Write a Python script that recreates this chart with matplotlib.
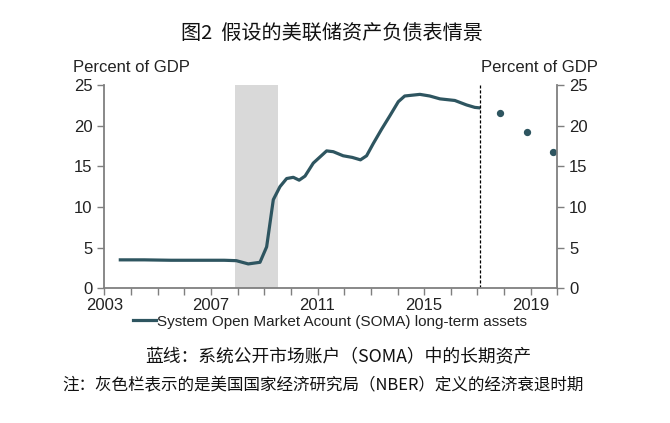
import matplotlib.pyplot as plt
import matplotlib.ticker as mticker

plt.rcParams['font.family'] = ['Liberation Sans', 'Noto Sans CJK SC', 'DejaVu Sans']

# SOMA long-term assets, percent of GDP
soma_years = [2003.6, 2004.5, 2005.5, 2006.5, 2007.5, 2007.95, 2008.4, 2008.84,
              2009.09, 2009.34, 2009.59, 2009.84, 2010.09, 2010.31, 2010.53,
              2010.84, 2011.34, 2011.59, 2011.96, 2012.3, 2012.61, 2012.84,
              2013.09, 2013.4, 2013.71, 2014.03, 2014.27, 2014.84, 2015.21,
              2015.59, 2016.15, 2016.59, 2016.9, 2017.05]
soma_values = [3.5, 3.5, 3.45, 3.45, 3.45, 3.4, 3.0, 3.2,
               5.1, 10.9, 12.5, 13.5, 13.65, 13.3, 13.8,
               15.4, 16.9, 16.8, 16.3, 16.1, 15.8, 16.3,
               17.8, 19.55, 21.2, 22.95, 23.65, 23.85, 23.65,
               23.3, 23.1, 22.55, 22.25, 22.2]

# projected points
proj_years = [2017.85, 2018.85, 2019.84]
proj_values = [21.5, 19.2, 16.8]

recession = (2007.92, 2009.5)
forecast_start = 2017.08

line_color = '#2e5560'

fig = plt.figure(figsize=(6.7, 4.23), dpi=100)
ax = fig.add_axes([0.1557, 0.3184, 0.832 - 0.1557, 0.799 - 0.3184])

ax.axvspan(*recession, color='#d9d9d9', lw=0, zorder=0)
ax.plot(soma_years, soma_values, color=line_color, lw=2.3,
        label='System Open Market Acount (SOMA) long-term assets')
ax.scatter(proj_years, proj_values, s=18, color=line_color, zorder=3, clip_on=False)
ax.plot([forecast_start, forecast_start], [0, 25], color='black', lw=0.9,
        ls=(0, (2.5, 1.5)))

ax.set_xlim(2003, 2020)
ax.set_ylim(0, 25)
ax.xaxis.set_major_locator(mticker.FixedLocator([2003, 2007, 2011, 2015, 2019]))
ax.xaxis.set_minor_locator(mticker.MultipleLocator(1))
ax.yaxis.set_major_locator(mticker.MultipleLocator(5))

spine_color = '#7f7f7f'
for s in ['top', 'right']:
    ax.spines[s].set_visible(False)
for s in ['left', 'bottom']:
    ax.spines[s].set_color(spine_color)
    ax.spines[s].set_linewidth(1.3)
ax.tick_params(which='both', colors=spine_color, labelcolor='#222222',
               labelsize=12, length=5, width=1)
ax.tick_params(axis='x', pad=2)

ax2 = ax.twinx()
ax2.set_ylim(0, 25)
ax2.yaxis.set_major_locator(mticker.MultipleLocator(5))
for s in ['top', 'left', 'bottom']:
    ax2.spines[s].set_visible(False)
ax2.spines['right'].set_color(spine_color)
ax2.spines['right'].set_linewidth(1.3)
ax2.tick_params(colors=spine_color, labelcolor='#222222', labelsize=12,
                length=5, width=1)

fig.text(73 / 670, 1 - 68 / 423, 'Percent of GDP', fontsize=12,
         color='#222222', va='center', ha='left')
fig.text(481 / 670, 1 - 68 / 423, 'Percent of GDP', fontsize=12,
         color='#222222', va='center', ha='left')

leg = ax.legend(loc='upper left', bbox_to_anchor=(0.05, -0.1), frameon=False,
                fontsize=11, handlelength=1.5, handletextpad=0.05,
                borderaxespad=0)
for t in leg.get_texts():
    t.set_color('#222222')

cjk = ['Noto Sans CJK SC', 'DejaVu Sans']
fig.text(332 / 670, 1 - 33 / 423, '图2  假设的美联储资产负债表情景', fontsize=14.5,
         family=cjk, ha='center', va='center', color='#111111')
fig.text(338 / 670, 1 - 357 / 423, '蓝线：系统公开市场账户（SOMA）中的长期资产',
         fontsize=12.8, family=cjk, ha='center', va='center', color='#111111')
fig.text(62 / 670, 1 - 386 / 423,
         '注：灰色栏表示的是美国国家经济研究局（NBER）定义的经济衰退时期',
         fontsize=11.9, family=cjk, ha='left', va='center', color='#111111')

fig.savefig('out.png', dpi=100, facecolor='white')
